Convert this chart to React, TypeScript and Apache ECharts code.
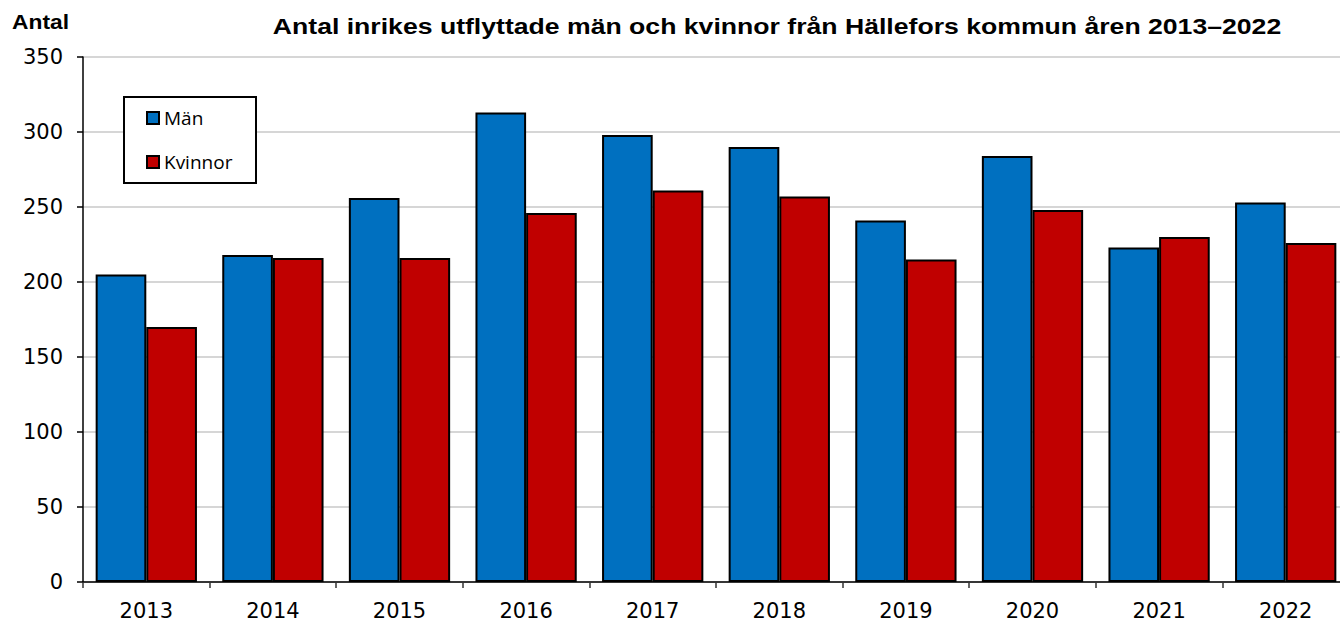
import React, { useEffect, useRef } from 'react';
import * as echarts from 'echarts';

const years = ['2013', '2014', '2015', '2016', '2017', '2018', '2019', '2020', '2021', '2022'];
const men = [205, 218, 256, 313, 298, 290, 241, 284, 223, 253];
const women = [170, 216, 216, 246, 261, 257, 215, 248, 230, 226];
const titleText = 'Antal inrikes utflyttade män och kvinnor från Hällefors kommun åren 2013–2022';
const yAxisName = 'Antal';

const FONT = '"Liberation Sans", Arial, sans-serif';
const AXIS_FONT = '"DejaVu Sans", sans-serif';

export default function App() {
  const ref = useRef<HTMLDivElement>(null);
  useEffect(() => {
    document.body.style.margin = '0';
    const chart = echarts.init(ref.current!, null, { renderer: 'svg' });
    chart.setOption({
      animation: false,
      backgroundColor: '#fff',
      grid: {
        left: 83,
        top: 57,
        width: 1266,
        height: 525,
        containLabel: false,
        outerBoundsMode: 'none',
      },
      legend: {
        data: ['Män', 'Kvinnor'],
        orient: 'vertical',
        left: 146,
        top: 108,
        padding: 0,
        itemWidth: 12,
        itemHeight: 12,
        itemGap: 24,
        itemTextGap: 6,
        icon: 'rect',
        selectedMode: false,
        z: 20,
        textStyle: { fontFamily: '"Open Sans", sans-serif', fontSize: 19, color: '#000', lineHeight: 20 },
      },
      graphic: [
        {
          type: 'rect',
          z: 15,
          shape: { x: 124, y: 97, width: 132, height: 86 },
          style: { fill: '#fff', stroke: '#000', lineWidth: 2 },
        },
        {
          type: 'text',
          x: 777,
          y: 26,
          scaleX: 1.21,
          style: { text: titleText, font: `bold 22px ${FONT}`, fill: '#000', textAlign: 'center', textVerticalAlign: 'middle' },
        },
        {
          type: 'text',
          x: 12,
          y: 22,
          scaleX: 1.14,
          style: { text: yAxisName, font: `bold 20px ${FONT}`, fill: '#000', textAlign: 'left', textVerticalAlign: 'middle' },
        },
      ],
      xAxis: {
        type: 'category',
        data: years,
        axisLine: { lineStyle: { color: '#000', width: 1.5 } },
        axisTick: { show: true, length: 6, lineStyle: { color: '#333', width: 1.5 } },
        axisLabel: { fontFamily: AXIS_FONT, fontSize: 21, color: '#000', margin: 18 },
      },
      yAxis: {
        type: 'value',
        min: 0,
        max: 350,
        interval: 50,
        axisLine: { show: true, lineStyle: { color: '#000', width: 1.5 } },
        axisTick: { show: true, length: 6, lineStyle: { color: '#000', width: 1.5 } },
        axisLabel: { fontFamily: AXIS_FONT, fontSize: 21, color: '#000', margin: 20 },
        splitLine: { lineStyle: { color: '#c8c8c8', width: 1.5 } },
      },
      series: [
        {
          name: 'Män',
          type: 'bar',
          data: men,
          barGap: '0%',
          barCategoryGap: '20%',
          itemStyle: { color: '#0070C0', borderColor: '#000', borderWidth: 2 },
        },
        {
          name: 'Kvinnor',
          type: 'bar',
          data: women,
          barGap: '0%',
          barCategoryGap: '20%',
          itemStyle: { color: '#C00000', borderColor: '#000', borderWidth: 2 },
        },
      ],
    });
    return () => chart.dispose();
  }, []);
  return <div ref={ref} style={{ width: 1340, height: 621 }} />;
}
